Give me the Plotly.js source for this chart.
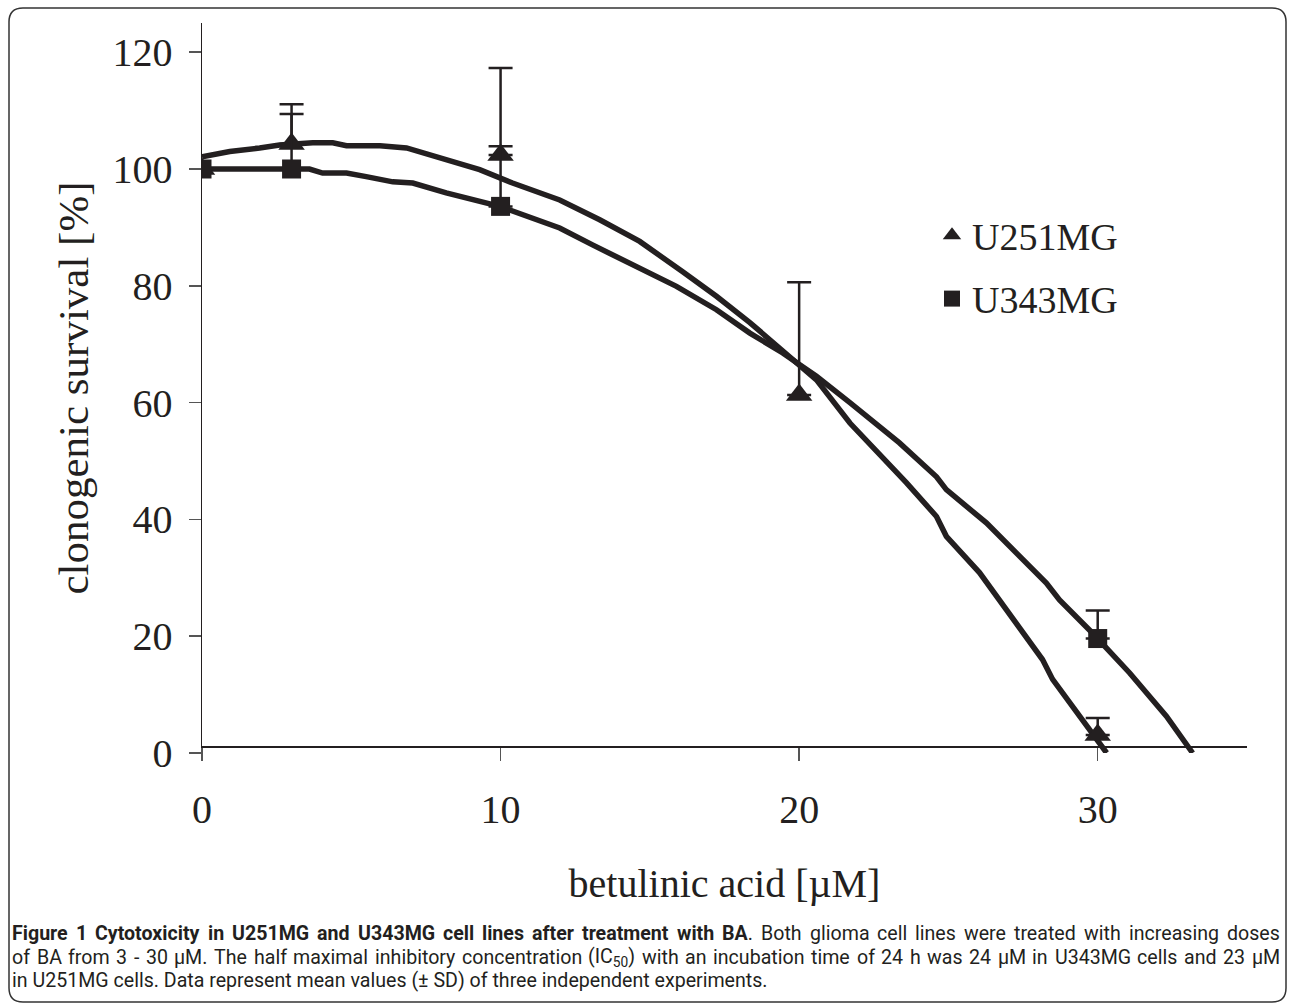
<!DOCTYPE html>
<html><head><meta charset="utf-8">
<script src="https://cdn.plot.ly/plotly-3.0.1.min.js"></script>
<style>html,body{margin:0;padding:0;background:#fff}#chart{width:1293px;height:1004px}</style>
</head><body><div id="chart"></div>
<script>
// ---- data ----
const u251Dose = [0, 3, 10, 20, 30];
const u251Mean = [100, 104.3, 102.4, 61.3, 3.1];
const u251SD   = [0, 6.8, 14.9, 19.3, 2.9];

const u343Dose = [0, 3, 10, 30];
const u343Mean = [100, 100, 93.6, 19.6];
const u343SD   = [0, 9.4, 10.3, 4.8];

const u251FitX = [0,0.93,1.93,2.6,3.71,4.38,4.84,5.96,6.85,8.18,9.3,10.4,11.98,13.32,14.66,16.1,17.23,18.35,19.45,20.58,21.7,22.13,23.59,24.6,24.93,26.04,26.94,28.15,28.49,29.62,30.3];
const u251FitY = [102.1,103.0,103.6,104.1,104.5,104.5,104.0,104.0,103.6,101.6,99.9,97.6,94.7,91.3,87.6,82.4,78.2,73.7,69.0,63.9,56.5,54.2,46.3,40.5,37.1,30.9,24.5,16.0,12.6,4.6,0];

const u343FitX = [0,3.6,4.04,4.84,5.5,6.39,7.06,8.18,9.97,11.3,11.98,13.08,14.55,15.89,17.23,18.35,19.45,20.58,21.7,23.36,24.6,24.93,26.27,27.38,28.28,28.72,29.83,31.07,32.3,33.18];
const u343FitY = [100,100,99.3,99.3,98.7,97.8,97.6,95.9,93.6,91.3,89.9,87.0,83.3,79.9,75.9,71.9,68.5,64.5,60.0,53.1,47.3,45.1,39.4,33.7,29.1,26.2,20.5,13.7,6.3,0];

const xTicks = [0, 10, 20, 30];
const yTicks = [0, 20, 40, 60, 80, 100, 120];

const seriesNames = ['U251MG', 'U343MG'];
const xTitle = 'betulinic acid [µM]';
const yTitle = 'clonogenic survival [%]';
const captionLines = [
  '<b>Figure 1 Cytotoxicity in U251MG and U343MG cell lines after treatment with BA</b>. Both glioma cell lines were treated with increasing doses',
  'of BA from 3 - 30 µM. The half maximal inhibitory concentration (IC<sub>50</sub>) with an incubation time of 24 h was 24 µM in U343MG cells and 23 µM',
  'in U251MG cells. Data represent mean values (± SD) of three independent experiments.'
];

// ---- layout geometry ----
const W = 1293, H = 1004;
const M = {l: 202, r: 46, t: 23, b: 251};
const PW = W - M.l - M.r, PH = H - M.t - M.b;
const px2x = p => (p - M.l) / PW;
const px2y = p => (H - M.b - p) / PH;

const ink = '#231f20';
const serif = 'Liberation Serif, Times New Roman, serif';
const capFont = 'Roboto';

function roundRect(x0, y0, x1, y1, r) {
  const rx = r / PW, ry = r / PH;
  const L = px2x(x0), R = px2x(x1), T = px2y(y0), B = px2y(y1);
  return `M${L + rx},${T} L${R - rx},${T} Q${R},${T} ${R},${T - ry} L${R},${B + ry} Q${R},${B} ${R - rx},${B} L${L + rx},${B} Q${L},${B} ${L},${B + ry} L${L},${T - ry} Q${L},${T} ${L + rx},${T} Z`;
}

// ---- caption: justified lines (word by word, widths measured with canvas) ----
const ctx = document.createElement('canvas').getContext('2d');
const capLeft = 12, capRight = 1280, lastLineRight = 775;
const capY = [933, 957, 980];
// size chosen so that the last (ragged) line spans as in the reference
ctx.font = '20px "' + capFont + '"';
const lastPlain = captionLines[2].replace(/<[^>]+>/g, '');
const capSize = Math.min(19.6, 20 * (lastLineRight - capLeft) / ctx.measureText(lastPlain).width);

function tokenize(line) {
  let bold = false, sub = false;
  return line.split(' ').map(raw => {
    let html = '', w = 0;
    raw.split(/(<\/?b>|<\/?sub>)/).forEach(p => {
      if (p === '<b>') bold = true;
      else if (p === '</b>') bold = false;
      else if (p === '<sub>') sub = true;
      else if (p === '</sub>') sub = false;
      else if (p) {
        let h = p;
        if (sub) h = '<sub>' + h + '</sub>';
        if (bold) h = '<b>' + h + '</b>';
        html += h;
        ctx.font = (bold ? 'bold ' : '') + (sub ? capSize * 0.7 : capSize) + 'px "' + capFont + '"';
        w += ctx.measureText(p).width;
      }
    });
    return {html, w};
  });
}
const annotations = [];
captionLines.forEach((line, i) => {
  const base = {xref: 'paper', yref: 'paper', y: px2y(capY[i]), xanchor: 'left', yanchor: 'middle',
                showarrow: false, borderpad: 0, borderwidth: 0,
                font: {family: capFont, size: capSize, color: ink}};
  if (i === captionLines.length - 1) {
    annotations.push(Object.assign({text: line, x: px2x(capLeft)}, base));
    return;
  }
  const toks = tokenize(line);
  const total = toks.reduce((s, t) => s + t.w, 0);
  const gap = (capRight - capLeft - total) / (toks.length - 1);
  let cx = capLeft;
  toks.forEach(t => {
    annotations.push(Object.assign({text: t.html, x: px2x(cx)}, base));
    cx += t.w + gap;
  });
});

const traces = [
  {x: u251FitX, y: u251FitY, mode: 'lines', line: {color: ink, width: 5.5}, showlegend: false, hoverinfo: 'skip'},
  {x: u343FitX, y: u343FitY, mode: 'lines', line: {color: ink, width: 5.5}, showlegend: false, hoverinfo: 'skip'},
  {x: u251Dose, y: u251Mean, name: seriesNames[0], legendgroup: 'a', mode: 'markers',
   marker: {symbol: 'triangle-up', size: 23, color: ink},
   error_y: {type: 'data', array: u251SD, symmetric: false, arrayminus: u251SD.map(() => 0), color: ink, thickness: 2.5, width: 12}},
  {x: u343Dose, y: u343Mean, name: seriesNames[1], legendgroup: 'b', mode: 'markers',
   marker: {symbol: 'square', size: 19, color: ink},
   error_y: {type: 'data', array: u343SD, symmetric: false, arrayminus: u343SD.map(() => 0), color: ink, thickness: 2.5, width: 12}}
];

const layout = {
  width: W, height: H,
  margin: M,
  paper_bgcolor: '#fff', plot_bgcolor: '#fff',
  showlegend: true,
  legend: {x: px2x(932), y: px2y(204), xanchor: 'left', yanchor: 'top',
           font: {family: serif, size: 38, color: ink}, bgcolor: 'rgba(0,0,0,0)',
           tracegroupgap: 11, traceorder: 'grouped'},
  xaxis: {range: [0, 35], anchor: 'free', position: 0.009,
          tickvals: xTicks, ticktext: xTicks.map(String), ticks: 'outside', ticklen: 13, tickwidth: 1.5, tickcolor: '#555',
          showline: true, linecolor: ink, linewidth: 1.5, showgrid: false, zeroline: false,
          tickfont: {family: serif, size: 40, color: ink}, ticklabelstandoff: 14,
          title: {text: xTitle, font: {family: serif, size: 40, color: ink}, standoff: 38}, automargin: false},
  yaxis: {range: [0, 125],
          tickvals: yTicks, ticktext: yTicks.map(String), ticks: 'outside', ticklen: 12, tickwidth: 1.5, tickcolor: '#555',
          showline: true, linecolor: ink, linewidth: 1.5, showgrid: false, zeroline: false,
          tickfont: {family: serif, size: 40, color: ink}, ticklabelstandoff: 8,
          title: {text: yTitle, font: {family: serif, size: 43, color: ink}, standoff: 10}, automargin: false},
  shapes: [{type: 'path', xref: 'paper', yref: 'paper', path: roundRect(9, 8, 1286, 1002, 14),
            line: {color: '#333', width: 1.5}, fillcolor: 'rgba(0,0,0,0)', layer: 'below'}],
  annotations: annotations
};

Plotly.newPlot('chart', traces, layout, {displayModeBar: false, staticPlot: true});
</script>
</body></html>
